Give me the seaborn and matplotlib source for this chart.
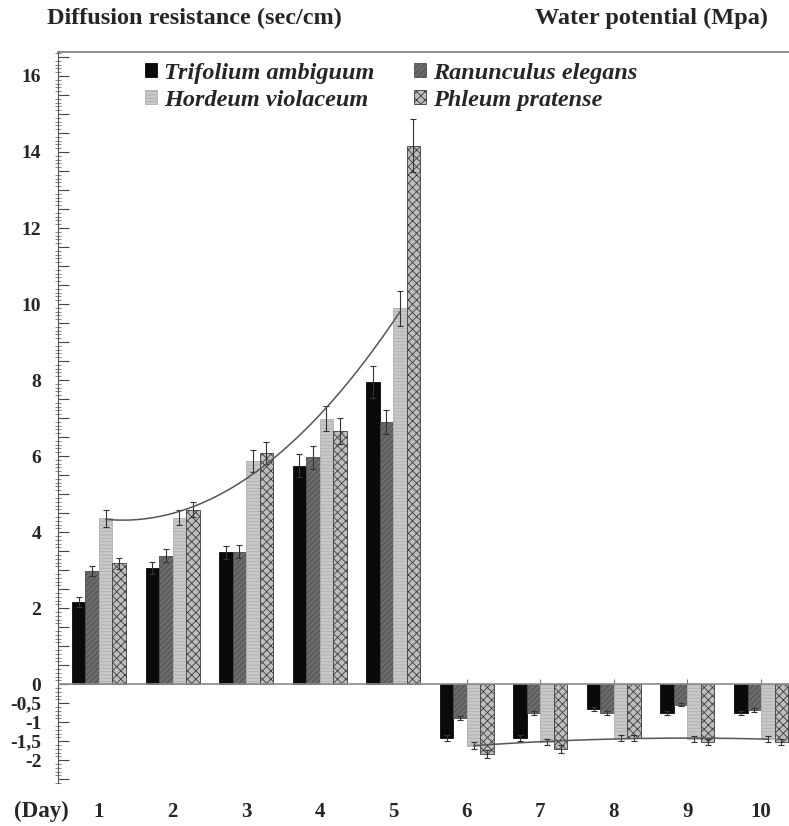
import matplotlib.pyplot as plt
import pandas as pd
import seaborn as sns
import numpy as np
from matplotlib.ticker import MultipleLocator, FuncFormatter

# data
days = ['1', '2', '3', '4', '5', '6', '7', '8', '9', '10']
species = ['Trifolium ambiguum', 'Ranunculus elegans', 'Hordeum violaceum', 'Phleum pratense']

trifolium = [2.17, 3.06, 3.47, 5.75, 7.96, -1.42, -1.42, -0.66, -0.75, -0.75]
trifolium_err = [0.13, 0.16, 0.17, 0.30, 0.42, 0.07, 0.07, 0.05, 0.05, 0.05]
ranunculus = [2.98, 3.38, 3.48, 5.97, 6.89, -0.88, -0.76, -0.75, -0.54, -0.68]
ranunculus_err = [0.14, 0.17, 0.17, 0.30, 0.32, 0.05, 0.05, 0.05, 0.04, 0.05]
hordeum = [4.36, 4.38, 5.87, 6.98, 9.89, -1.62, -1.51, -1.42, -1.44, -1.44]
hordeum_err = [0.22, 0.20, 0.29, 0.33, 0.46, 0.09, 0.08, 0.07, 0.07, 0.07]
phleum = [3.18, 4.59, 6.07, 6.67, 14.17, -1.84, -1.71, -1.42, -1.53, -1.53]
phleum_err = [0.15, 0.19, 0.29, 0.34, 0.70, 0.10, 0.10, 0.07, 0.08, 0.08]

ytick_labels = {0: '0', 2: '2', 4: '4', 6: '6', 8: '8', 10: '10', 12: '12', 14: '14', 16: '16',
                -0.5: '-0,5', -1: '-1', -1.5: '-1,5', -2: '-2'}

values = [trifolium, ranunculus, hordeum, phleum]
errors = [trifolium_err, ranunculus_err, hordeum_err, phleum_err]
df = pd.DataFrame({
    'day': days * 4,
    'species': [s for s in species for _ in days],
    'value': [v for vals in values for v in vals],
})

face = ['#0a0a0a', '#6b6b6b', '#c8c8c8', '#bdbdbd']
hatches = [None, '//////', '-----', 'xxxx']
hatch_col = ['#0a0a0a', '#4e4e4e', '#b0b0b0', '#3c3c3c']

sns.set_style('white')
plt.rcParams['font.family'] = ['Liberation Serif', 'DejaVu Serif']
plt.rcParams['hatch.linewidth'] = 0.6

fig = plt.figure(figsize=(7.89, 8.26), dpi=100)
ax = fig.add_axes([58 / 789, 1 - 783 / 826, 1 - 58 / 789, (783 - 52) / 826])

sns.barplot(data=df, x='day', y='value', hue='species', order=days, hue_order=species,
            palette=face, width=0.734, errorbar=None, legend=False, ax=ax,
            linewidth=0.6, saturation=1)

bars = list(ax.containers)

# textures + error bars
for i, cont in enumerate(bars):
    xs = []
    for bar in cont:
        bar.set_edgecolor(hatch_col[i])
        if hatches[i]:
            bar.set_hatch(hatches[i])
        xs.append(bar.get_x() + bar.get_width() / 2)
    ax.errorbar(xs, values[i], yerr=errors[i], fmt='none', ecolor='#333333',
                elinewidth=0.8, capsize=2, capthick=0.8, zorder=4)

# trend lines through Hordeum bars
hx = np.array([b.get_x() + b.get_width() / 2 for b in bars[2]])
hv = np.array(hordeum)
for sl in (slice(0, 5), slice(5, 10)):
    p = np.polyfit(hx[sl], hv[sl], 2)
    xx = np.linspace(hx[sl][0], hx[sl][-1], 100)
    ax.plot(xx, np.polyval(p, xx), color='#555555', lw=1.1, zorder=5)

ax.axhline(0, color='#8a8a8a', lw=1.2, zorder=3)
ax.vlines(np.arange(len(days)), 0, 0.13, color='#777777', lw=0.8, zorder=0)

ax.set_xlim(-0.557, 9.38)
ax.set_ylim(-2.6, 16.63)
ax.set_xlabel('')
ax.set_ylabel('')

ax.yaxis.set_major_locator(MultipleLocator(0.5))
ax.yaxis.set_minor_locator(MultipleLocator(0.1))
ax.yaxis.set_major_formatter(FuncFormatter(
    lambda v, pos: ytick_labels.get(round(v, 1) if round(v, 1) % 1 else int(round(v)), '')))
ax.tick_params(axis='y', which='major', direction='in', length=8, width=0.8,
               color='#444444', pad=12, left=True, labelsize=14)
ax.tick_params(axis='y', which='minor', direction='inout', length=5, width=0.5,
               color='#555555', left=True)
for t in ax.get_yticklabels():
    t.set_fontweight('bold')

ax.set_xticks(range(len(days)))
ax.set_xticklabels(days, fontsize=15, fontweight='bold')
ax.tick_params(axis='x', length=0, pad=14)

for side in ('right', 'bottom'):
    ax.spines[side].set_visible(False)
ax.spines['left'].set_color('#555555')
ax.spines['top'].set_color('#777777')
ax.spines['top'].set_linewidth(1.2)

ax.legend(handles=[bars[0], bars[2], bars[1], bars[3]],
          labels=[species[0], species[2], species[1], species[3]],
          ncol=2, loc='upper left', bbox_to_anchor=(0.119, 0.985), frameon=False,
          prop={'style': 'italic', 'weight': 'bold', 'size': 17.5},
          handlelength=0.5, handleheight=0.5, handletextpad=0.3,
          columnspacing=1.6, labelspacing=0.25, borderpad=0, borderaxespad=0)

fig.text(47 / 789, 1 - 18 / 826, 'Diffusion resistance (sec/cm)', fontsize=17.5,
         fontweight='bold', va='center', ha='left')
fig.text(768 / 789, 1 - 18 / 826, 'Water potential (Mpa)', fontsize=17.5,
         fontweight='bold', va='center', ha='right')
fig.text(14 / 789, 1 - 811 / 826, '(Day)', fontsize=16.5, fontweight='bold', va='center', ha='left')

fig.savefig('out.png', dpi=100)
